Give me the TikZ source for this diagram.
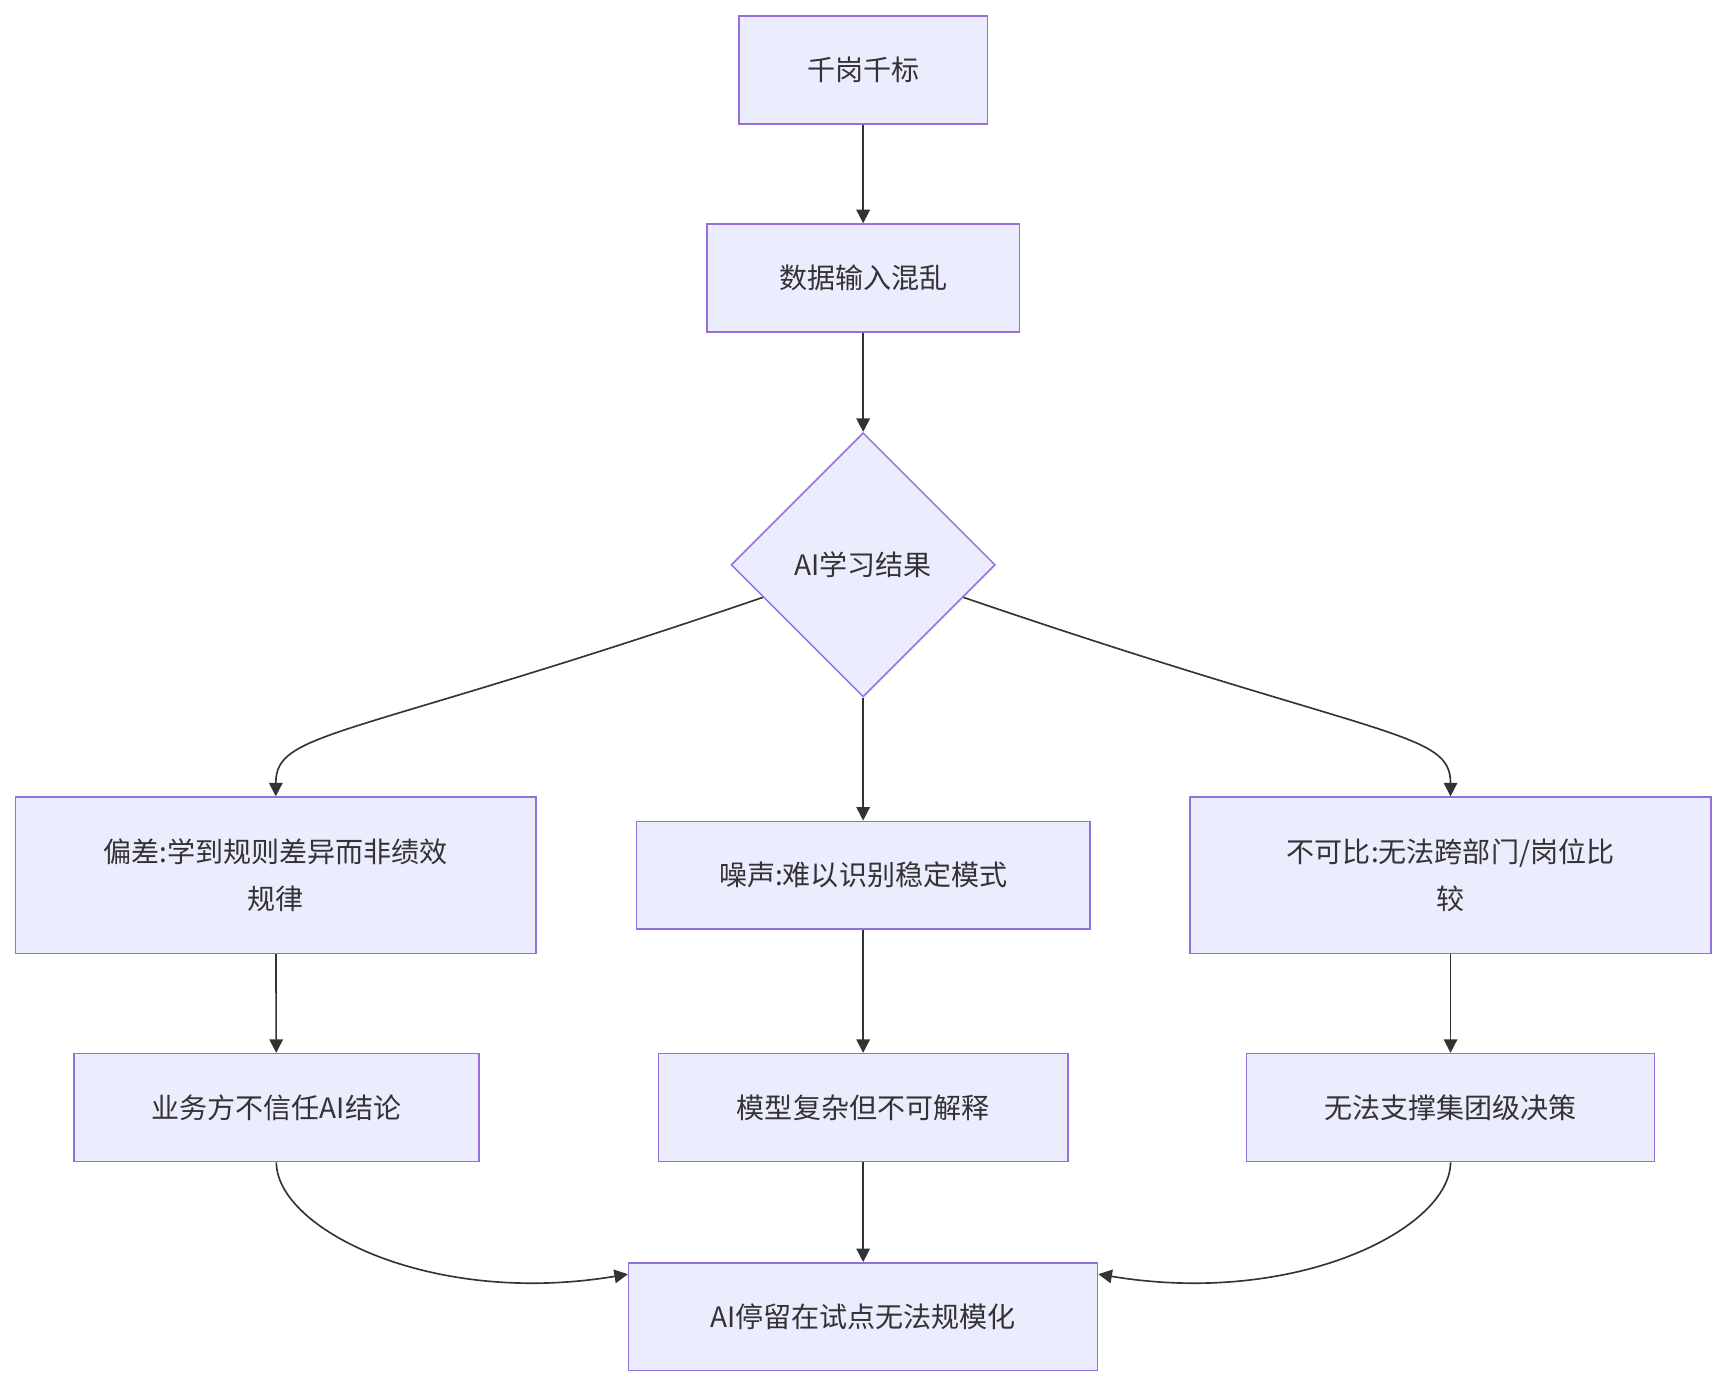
\documentclass[tikz,border=0pt]{standalone}
\usepackage{fontspec}
\setmainfont{Noto Sans CJK SC}
\usetikzlibrary{arrows.meta,shapes.geometric,calc,positioning}
\definecolor{boxfill}{HTML}{ECECFF}
\definecolor{boxline}{HTML}{9370DB}
\definecolor{edgeline}{HTML}{333333}
\tikzset{
  box/.style={draw=boxline, fill=boxfill, line width=0.8pt, minimum height=1.96cm, align=center, inner sep=0pt, font=\fontsize{14.5}{24}\selectfont, text=edgeline},
  decide/.style={draw=boxline, fill=boxfill, line width=0.8pt, diamond, minimum width=4.8cm, minimum height=4.8cm, inner sep=0pt, font=\fontsize{14.5}{24}\selectfont, text=edgeline},
  flow/.style={draw=edgeline, line width=0.85pt, -{Triangle[length=7pt,width=7pt]}}
}
\begin{document}
\begin{tikzpicture}[x=0.02cm,y=-0.02cm]
  \useasboundingbox (0,0) rectangle (1565,1256);
  \node[box, minimum width=4.52cm] at (784,63.5) (top) {千岗千标};
  \node[box, minimum width=5.68cm] at (784,252.5) (data) {数据输入混乱};
  \node[decide] at (784,513) (learn) {AI学习结果};
  \node[box, minimum width=9.46cm, minimum height=2.84cm] at (250.5,795) (bias) {偏差:学到规则差异而非绩效\\规律};
  \node[box, minimum width=8.24cm] at (784,795) (noise) {噪声:难以识别稳定模式};
  \node[box, minimum width=9.46cm, minimum height=2.84cm] at (1317.5,795) (incomp) {不可比:无法跨部门/岗位比\\较};
  \node[box, minimum width=7.36cm] at (251,1006) (distrust) {业务方不信任AI结论};
  \node[box, minimum width=7.44cm] at (784,1006) (complex) {模型复杂但不可解释};
  \node[box, minimum width=7.42cm] at (1317.5,1006) (nogroup) {无法支撑集团级决策};
  \node[box, minimum width=8.52cm] at (784,1196) (pilot) {AI停留在试点无法规模化};

  \draw[flow] (top)--(data);
  \draw[flow] (data)--(learn);
  \draw[flow] (learn.198) .. controls +(-380,130) and ($(bias.north)+(0,-60)$) .. (bias.north);
  \draw[flow] (learn)--(noise);
  \draw[flow] (learn.-18) .. controls +(380,130) and ($(incomp.north)+(0,-60)$) .. (incomp.north);
  \draw[flow] (bias)--(distrust);
  \draw[flow] (noise)--(complex);
  \draw[flow] (incomp)--(nogroup);
  \draw[flow] (distrust.south) .. controls +(0,60) and +(-180,30) .. ($(pilot.north west)+(0,11)$);
  \draw[flow] (complex)--(pilot);
  \draw[flow] (nogroup.south) .. controls +(0,60) and +(180,30) .. ($(pilot.north east)+(0,11)$);
\end{tikzpicture}
\end{document}
